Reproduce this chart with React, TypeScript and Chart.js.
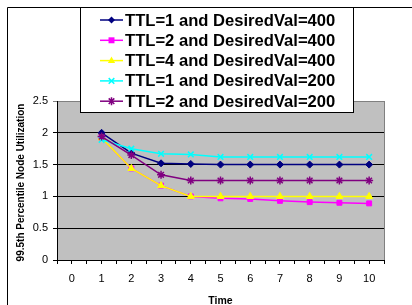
import React, { useEffect, useRef } from 'react';
import { Chart, registerables } from 'chart.js';
Chart.register(...registerables);

const times = [1, 2, 3, 4, 5, 6, 7, 8, 9, 10];
const ttl1Val400 = [2.0, 1.68, 1.52, 1.51, 1.5, 1.5, 1.5, 1.5, 1.5, 1.5];
const ttl2Val400 = [1.92, 1.44, 1.17, 1.0, 0.97, 0.96, 0.93, 0.91, 0.9, 0.89];
const ttl4Val400 = [1.92, 1.44, 1.17, 1.0, 1.0, 1.0, 1.0, 1.0, 1.0, 1.0];
const ttl1Val200 = [1.89, 1.75, 1.67, 1.66, 1.62, 1.62, 1.62, 1.62, 1.62, 1.62];
const ttl2Val200 = [1.94, 1.65, 1.34, 1.25, 1.25, 1.25, 1.25, 1.25, 1.25, 1.25];
const seriesNames = [
  'TTL=1 and DesiredVal=400',
  'TTL=2 and DesiredVal=400',
  'TTL=4 and DesiredVal=400',
  'TTL=1 and DesiredVal=200',
  'TTL=2 and DesiredVal=200',
];
const seriesColors = ['#000080', '#FF00FF', '#FFFF00', '#00FFFF', '#800080'];
const seriesStyles = ['rectRot', 'rect', 'triangle', 'crossRot', 'star'];
const seriesRadius = [3.5, 3.5, 4, 4, 4];
const yTickValues = [0, 0.5, 1, 1.5, 2, 2.5];
const xTickLabels = ['0', '1', '2', '3', '4', '5', '6', '7', '8', '9', '10'];
const yTitle = '99.5th Percentile Node Utilization';
const xTitle = 'Time';

const FONT = '"Liberation Sans", Arial, sans-serif';

export default function App() {
  const ref = useRef<HTMLCanvasElement>(null);
  useEffect(() => {
    const canvas = ref.current!;
    const allSeries = [ttl1Val400, ttl2Val400, ttl4Val400, ttl1Val200, ttl2Val200];
    const datasets = allSeries.map((vals, i) => ({
      label: seriesNames[i],
      data: times.map((t, j) => ({ x: t, y: vals[j] })),
      borderColor: seriesColors[i],
      backgroundColor: seriesColors[i],
      pointBackgroundColor: seriesColors[i],
      pointBorderColor: seriesColors[i],
      pointStyle: seriesStyles[i] as any,
      pointRadius: seriesRadius[i],
      pointBorderWidth: seriesStyles[i] === 'crossRot' || seriesStyles[i] === 'star' ? 1.5 : 1,
      borderWidth: 1.5,
      tension: 0,
      order: 10 - i,
    }));

    function drawMarker(ctx: CanvasRenderingContext2D, style: string, x: number, y: number, r: number, color: string) {
      ctx.save();
      ctx.fillStyle = color;
      ctx.strokeStyle = color;
      ctx.lineWidth = 1.5;
      ctx.beginPath();
      if (style === 'rectRot') {
        ctx.moveTo(x, y - r); ctx.lineTo(x + r, y); ctx.lineTo(x, y + r); ctx.lineTo(x - r, y); ctx.closePath(); ctx.fill();
      } else if (style === 'rect') {
        const s = r * 0.85;
        ctx.fillRect(x - s, y - s, 2 * s, 2 * s);
      } else if (style === 'triangle') {
        ctx.moveTo(x, y - r); ctx.lineTo(x + r * 0.9, y + r * 0.6); ctx.lineTo(x - r * 0.9, y + r * 0.6); ctx.closePath(); ctx.fill();
      } else if (style === 'crossRot') {
        const s = r * 0.7;
        ctx.moveTo(x - s, y - s); ctx.lineTo(x + s, y + s); ctx.moveTo(x + s, y - s); ctx.lineTo(x - s, y + s); ctx.stroke();
      } else if (style === 'star') {
        const s = r * 0.7;
        ctx.moveTo(x - s, y - s); ctx.lineTo(x + s, y + s); ctx.moveTo(x + s, y - s); ctx.lineTo(x - s, y + s);
        ctx.moveTo(x, y - r); ctx.lineTo(x, y + r); ctx.stroke();
      }
      ctx.restore();
    }

    const framePlugin = {
      id: 'framePlugin',
      beforeDraw(chart: any) {
        const { ctx, chartArea: a } = chart;
        ctx.save();
        ctx.fillStyle = '#FFFFFF';
        ctx.fillRect(0, 0, chart.width, chart.height);
        ctx.fillStyle = '#C0C0C0';
        ctx.fillRect(a.left, a.top, a.right - a.left, a.bottom - a.top);
        ctx.restore();
      },
      afterDatasetsDraw(chart: any) {
        const { ctx, chartArea: a } = chart;
        ctx.save();
        ctx.strokeStyle = '#808080';
        ctx.lineWidth = 1;
        ctx.beginPath();
        ctx.moveTo(Math.round(a.right) + 0.5, a.top);
        ctx.lineTo(Math.round(a.right) + 0.5, a.bottom);
        ctx.stroke();
        ctx.restore();
      },
      afterDraw(chart: any) {
        const { ctx, chartArea: a } = chart;
        ctx.save();
        ctx.strokeStyle = '#000';
        ctx.lineWidth = 1;
        ctx.beginPath();
        ctx.moveTo(7.5, chart.height);
        ctx.lineTo(7.5, 7.5);
        ctx.lineTo(chart.width, 7.5);
        ctx.stroke();
        ctx.fillStyle = '#000';
        ctx.font = `bold 10.5px ${FONT}`;
        ctx.textAlign = 'center';
        ctx.textBaseline = 'middle';
        ctx.fillText(xTitle, (a.left + a.right) / 2, 301);
        ctx.save();
        ctx.translate(21.5, (a.top + a.bottom) / 2 + 2);
        ctx.rotate(-Math.PI / 2);
        ctx.font = `bold 10px ${FONT}`;
        ctx.fillText(yTitle, 0, 0);
        ctx.restore();
        const lx = 80.5, ly = 7.5, lw = 273, lh = 105;
        ctx.fillStyle = '#FFFFFF';
        ctx.fillRect(lx, ly, lw, lh);
        ctx.strokeStyle = '#000';
        ctx.strokeRect(lx, ly, lw, lh);
        ctx.font = `bold 16.6px ${FONT}`;
        ctx.textAlign = 'left';
        ctx.textBaseline = 'middle';
        seriesNames.forEach((name, i) => {
          const cy = 20 + i * 20.3;
          ctx.strokeStyle = seriesColors[i];
          ctx.lineWidth = 1.5;
          ctx.beginPath();
          ctx.moveTo(100, cy);
          ctx.lineTo(123, cy);
          ctx.stroke();
          drawMarker(ctx, seriesStyles[i], 111.5, cy, seriesRadius[i], seriesColors[i]);
          ctx.fillStyle = '#000';
          ctx.fillText(name, 125, cy + 1);
        });
        ctx.restore();
      },
    };

    const chart = new Chart(canvas, {
      type: 'line',
      data: { datasets: datasets as any },
      plugins: [framePlugin],
      options: {
        responsive: false,
        animation: false,
        layout: { padding: { left: 0, top: 101, right: 28, bottom: 0 } },
        plugins: { legend: { display: false }, tooltip: { enabled: false }, title: { display: false } },
        scales: {
          x: {
            type: 'linear',
            min: -0.5,
            max: 10.5,
            afterFit: (s: any) => { s.height = 45; },
            afterBuildTicks: (s: any) => {
              const t: any[] = [];
              for (let k = 0; k <= 22; k++) t.push({ value: -0.5 + k * 0.5 });
              s.ticks = t;
            },
            ticks: {
              autoSkip: false,
              maxRotation: 0,
              padding: 8,
              color: '#000',
              font: { family: FONT, size: 11 },
              callback: (v: any) => {
                const n = Number(v);
                return Number.isInteger(n) ? xTickLabels[n] : '';
              },
            },
            grid: { drawOnChartArea: false, drawTicks: true, tickLength: 4, color: '#000' },
            border: { color: '#000', width: 1 },
          },
          y: {
            type: 'linear',
            min: 0,
            max: 2.5,
            afterFit: (s: any) => { s.width = 57; },
            afterBuildTicks: (s: any) => { s.ticks = yTickValues.map(v => ({ value: v })); },
            ticks: {
              padding: 5,
              color: '#000',
              font: { family: FONT, size: 11 },
              callback: (v: any) => String(v),
            },
            grid: {
              color: (c: any) => (c.tick && c.tick.value === 2.5 ? '#808080' : '#000'),
              tickLength: 4,
              lineWidth: 1,
            },
            border: { color: '#000', width: 1 },
          },
        },
      } as any,
    });
    return () => chart.destroy();
  }, []);
  return (
    <div style={{ position: 'fixed', left: 0, top: 0, width: 412, height: 305 }}>
      <canvas ref={ref} width={412} height={305} style={{ width: 412, height: 305, display: 'block' }} />
    </div>
  );
}
